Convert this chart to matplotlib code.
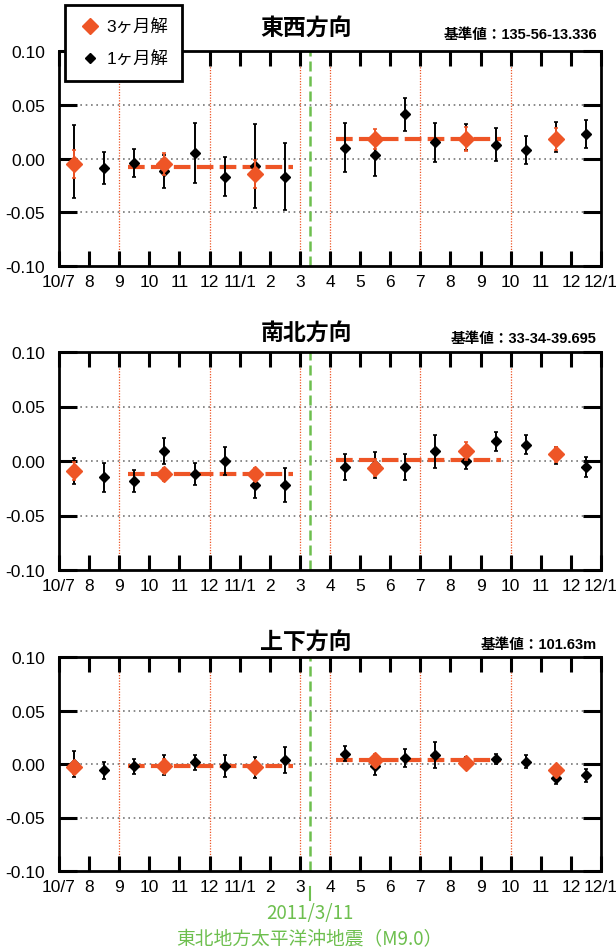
import matplotlib
matplotlib.use('Agg')
import matplotlib.pyplot as plt
from matplotlib.lines import Line2D

plt.rcParams['font.family'] = ['Liberation Sans', 'Noto Sans CJK JP']

# x axis: months counted from 2010/7 (tick labels at month starts)
month_labels = ['10/7', '8', '9', '10', '11', '12', '11/1', '2', '3', '4', '5',
                '6', '7', '8', '9', '10', '11', '12', '12/1']

# 1-month solutions (month centre, no March 2011)
x_1m = [0.5, 1.5, 2.5, 3.5, 4.5, 5.5, 6.5, 7.5,
        9.5, 10.5, 11.5, 12.5, 13.5, 14.5, 15.5, 16.5, 17.5]
# 3-month solutions
x_3m = [0.5, 3.5, 6.5, 10.5, 13.5, 16.5]

# quarter boundaries (red dotted) and quake date (2011/3/11)
quarter_edges = [2, 5, 8, 9, 12, 15]
quake_x = 8 + 10 / 31

# averaging period for the dashed mean lines
mean_start = [2.3, 9.2]
mean_end = [7.78, 14.68]

titles = ['東西方向', '南北方向', '上下方向']
ref_values = ['基準値：135-56-13.336', '基準値：33-34-39.695', '基準値：101.63m']

ew_1m = [-0.003, -0.009, -0.004, -0.012, 0.005, -0.017, -0.007, -0.017,
         0.010, 0.003, 0.041, 0.015, 0.020, 0.013, 0.008, 0.020, 0.023]
ew_1m_err = [0.034, 0.015, 0.013, 0.015, 0.028, 0.018, 0.039, 0.031,
             0.023, 0.019, 0.015, 0.018, 0.012, 0.015, 0.013, 0.014, 0.013]
ew_3m = [-0.005, -0.005, -0.014, 0.018, 0.018, 0.018]
ew_3m_err = [0.013, 0.010, 0.013, 0.009, 0.011, 0.010]
ew_mean = [-0.0075, 0.018]

ns_1m = [-0.009, -0.015, -0.018, 0.009, -0.012, 0.000, -0.022, -0.022,
         -0.0055, -0.004, -0.0055, 0.009, 0.000, 0.018, 0.015, 0.005, -0.0055]
ns_1m_err = [0.012, 0.013, 0.010, 0.012, 0.010, 0.013, 0.012, 0.016,
             0.012, 0.012, 0.012, 0.015, 0.007, 0.009, 0.009, 0.008, 0.009]
ns_3m = [-0.009, -0.012, -0.012, -0.006, 0.009, 0.006]
ns_3m_err = [0.008, 0.006, 0.006, 0.008, 0.008, 0.007]
ns_mean = [-0.012, 0.001]

ud_1m = [0.000, -0.006, -0.002, -0.001, 0.0015, -0.002, -0.003, 0.004,
         0.0096, -0.002, 0.0056, 0.0087, 0.001, 0.0047, 0.002, -0.013, -0.0105]
ud_1m_err = [0.012, 0.008, 0.007, 0.009, 0.007, 0.010, 0.010, 0.012,
             0.007, 0.008, 0.008, 0.012, 0.006, 0.005, 0.006, 0.006, 0.006]
ud_3m = [-0.003, -0.0015, -0.003, 0.004, 0.001, -0.006]
ud_3m_err = [0.006, 0.006, 0.005, 0.005, 0.005, 0.005]
ud_mean = [-0.0015, 0.0034]

series = [
    (ew_1m, ew_1m_err, ew_3m, ew_3m_err, ew_mean),
    (ns_1m, ns_1m_err, ns_3m, ns_3m_err, ns_mean),
    (ud_1m, ud_1m_err, ud_3m, ud_3m_err, ud_mean),
]

RED = '#ee5526'
GREEN = '#6dbf4e'

W, H = 616, 953
fig = plt.figure(figsize=(W / 100, H / 100), dpi=100)

# panel boxes in pixels: (top, bottom)
panel_px = [(52, 267), (353, 571), (658, 872)]
title_y = [28, 333, 642]
ref_y = [35, 339, 645]
left_px, right_px = 59, 601

for i, (top, bot) in enumerate(panel_px):
    ax = fig.add_axes([left_px / W, 1 - bot / H, (right_px - left_px) / W, (bot - top) / H])
    v1, e1, v3, e3, means = series[i]

    for y in [0.05, 0.0, -0.05]:
        ax.axhline(y, color='#777777', lw=1.2, ls=(0, (1, 2.2)), zorder=1)
    for xe in quarter_edges:
        ax.axvline(xe, color=RED, lw=0.9, ls=(0, (1, 1.2)), zorder=1)
    ax.axvline(quake_x, color=GREEN, lw=1.8, ls=(0, (4, 2)), zorder=1)

    for s, e, m in zip(mean_start, mean_end, means):
        ax.plot([s, e], [m, m], color=RED, lw=3, ls=(0, (4, 1.5)), zorder=3)

    ax.errorbar(x_1m, v1, yerr=e1, fmt='D', color='black', ms=4.8, elinewidth=1.4,
                capsize=1.5, capthick=1.2, zorder=4)
    ax.errorbar(x_3m, v3, yerr=e3, fmt='D', color=RED, ms=8.5, elinewidth=1.4,
                capsize=1.5, capthick=1.2, zorder=5)

    ax.set_xlim(0, 18)
    ax.set_ylim(-0.1, 0.1)
    ax.set_xticks(range(19))
    ax.set_xticklabels(month_labels)
    ax.set_yticks([-0.10, -0.05, 0.0, 0.05, 0.10])
    ax.set_yticklabels(['-0.10', '-0.05', '0.00', '0.05', '0.10'])
    ax.tick_params(axis='x', direction='in', length=11, width=2.2, top=True,
                   labelsize=12.5, pad=6)
    ax.tick_params(axis='y', direction='in', length=13, width=2.2, right=True,
                   labelsize=12.5, pad=10)
    for sp in ax.spines.values():
        sp.set_linewidth(2)

    fig.text(306 / W, 1 - title_y[i] / H, titles[i], ha='center', va='center',
             fontsize=16.5, fontweight='bold', family='Noto Sans CJK JP')
    fig.text(597 / W, 1 - ref_y[i] / H, ref_values[i], ha='right', va='center',
             fontsize=10.5, fontweight='bold',
             family=['Liberation Sans', 'Noto Sans CJK JP'])

# legend
handles = [
    Line2D([], [], marker='D', color=RED, ls='none', ms=8.5),
    Line2D([], [], marker='D', color='black', ls='none', ms=4.8),
]
leg = fig.legend(handles, ['3ヶ月解', '1ヶ月解'], loc='upper left',
                 bbox_to_anchor=(65 / W, 1 - 6 / H), borderaxespad=0, fancybox=False,
                 framealpha=1, edgecolor='black',
                 handletextpad=0.3, handlelength=1.3, borderpad=0.8, labelspacing=0.9,
                 prop={'family': ['Liberation Sans', 'Noto Sans CJK JP'], 'size': 12.5})
leg.get_frame().set_linewidth(2)
leg.set_zorder(10)

# earthquake annotation below the last panel
qx = (left_px + quake_x / 18 * (right_px - left_px)) / W
fig.add_artist(Line2D([qx, qx], [1 - 888 / H, 1 - 901 / H], color=GREEN, lw=1.5))
fig.text(qx, 1 - 914 / H, '2011/3/11', ha='center', va='center', color=GREEN,
         fontsize=13.5, family='Noto Sans CJK JP')
fig.text(qx, 1 - 940 / H, '東北地方太平洋沖地震（M9.0）', ha='center', va='center',
         color=GREEN, fontsize=13.5, family='Noto Sans CJK JP')

fig.savefig('out.png', dpi=100)
